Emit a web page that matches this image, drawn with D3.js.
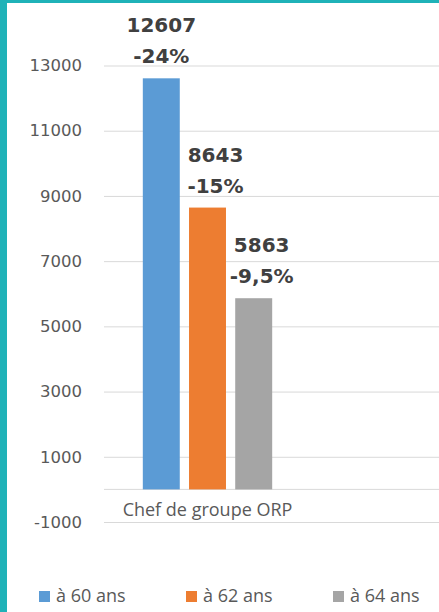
<!DOCTYPE html>
<html>
<head>
<meta charset="utf-8">
<script src="https://cdn.jsdelivr.net/npm/d3@7"></script>
<style>
  html, body { margin: 0; padding: 0; background: #fff; }
  svg { display: block; }
</style>
</head>
<body>
<div id="chart"></div>
<script>
const categories = ['Chef de groupe ORP'];
const series = ['à 60 ans', 'à 62 ans', 'à 64 ans'];
const values = [12607, 8643, 5863];
const changes = ['-24%', '-15%', '-9,5%'];
const yTicks = [-1000, 1000, 3000, 5000, 7000, 9000, 11000, 13000];

const colors = ['#5b9bd5', '#ed7d31', '#a5a5a5'];
const labelShift = [0, 8, 8];

const width = 439;
const height = 612;

const svg = d3.select('#chart').append('svg')
    .attr('width', width)
    .attr('height', height)
    .attr('viewBox', [0, 0, width, height]);

// teal frame on the left and top
svg.append('rect').attr('x', 0).attr('y', 0).attr('width', 7).attr('height', height).attr('fill', '#1fb2b8');
svg.append('rect').attr('x', 0).attr('y', 0).attr('width', width).attr('height', 3).attr('fill', '#1fb2b8');

const y = d3.scaleLinear()
  .domain([-1000, 13000])
  .range([522, 65.5]);

const x = d3.scaleBand()
  .domain(categories)
  .range([104, 311])
  .paddingInner(0)
  .paddingOuter(0.3);

const xs = d3.scaleBand()
  .domain(series)
  .range([0, x.bandwidth()])
  .paddingInner(0.2);

// gridlines + tick labels
const grid = svg.append('g')
  .attr('transform', 'translate(104,0)')
  .call(d3.axisLeft(y).tickValues(yTicks).tickSize(-(width - 104)).tickPadding(22).tickFormat(d => String(d)));
grid.select('.domain').remove();
grid.selectAll('line').attr('stroke', '#d9d9d9').attr('stroke-width', 1);
grid.selectAll('text')
  .attr('fill', '#595959')
  .attr('font-family', 'DejaVu Sans, Verdana, sans-serif')
  .attr('font-size', 16.5);

// zero line
svg.append('line')
  .attr('x1', 104).attr('x2', width)
  .attr('y1', y(0)).attr('y2', y(0))
  .attr('stroke', '#d9d9d9');

// bars
const bars = svg.append('g')
  .selectAll('g')
  .data(series)
  .enter().append('g');

bars.append('rect')
  .attr('x', (d, i) => x(categories[0]) + xs(d))
  .attr('y', (d, i) => y(values[i]))
  .attr('width', xs.bandwidth())
  .attr('height', (d, i) => y(0) - y(values[i]))
  .attr('fill', (d, i) => colors[i]);

const cx = (d, i) => x(categories[0]) + xs(d) + xs.bandwidth() / 2 + labelShift[i];

bars.append('text')
  .attr('x', cx)
  .attr('y', (d, i) => y(values[i]) - 46)
  .attr('text-anchor', 'middle')
  .attr('font-family', 'DejaVu Sans, Verdana, sans-serif')
  .attr('font-weight', 'bold')
  .attr('font-size', 20)
  .attr('fill', '#404040')
  .text((d, i) => values[i]);

bars.append('text')
  .attr('x', cx)
  .attr('y', (d, i) => y(values[i]) - 15)
  .attr('text-anchor', 'middle')
  .attr('font-family', 'DejaVu Sans, Verdana, sans-serif')
  .attr('font-weight', 'bold')
  .attr('font-size', 20)
  .attr('fill', '#404040')
  .text((d, i) => changes[i]);

// category label
svg.append('g')
  .attr('transform', `translate(0,${y(0)})`)
  .call(d3.axisBottom(x).tickSize(0).tickPadding(14))
  .call(g => g.select('.domain').remove())
  .selectAll('text')
    .attr('fill', '#595959')
    .attr('font-family', 'Open Sans, sans-serif')
    .attr('font-size', 18);

// legend
const lx = d3.scaleBand()
  .domain(series)
  .range([39, 39 + 3 * 147]);

const legend = svg.append('g')
  .selectAll('g')
  .data(series)
  .enter().append('g')
    .attr('transform', d => `translate(${lx(d)},591)`);

legend.append('rect')
  .attr('width', 11)
  .attr('height', 11)
  .attr('fill', (d, i) => colors[i]);

legend.append('text')
  .attr('x', 17)
  .attr('y', 10.5)
  .attr('fill', '#595959')
  .attr('font-family', 'Open Sans, sans-serif')
  .attr('font-size', 18)
  .text(d => d);
</script>
</body>
</html>
